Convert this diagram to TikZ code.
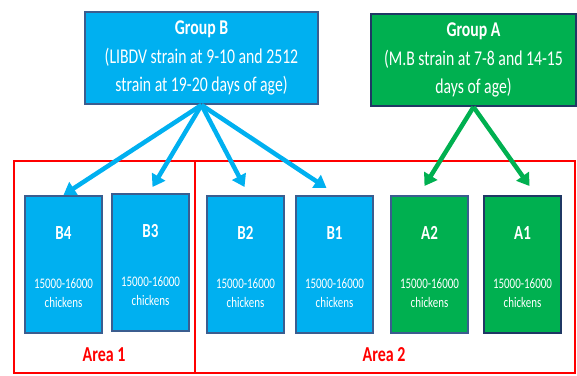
\documentclass[tikz,border=0pt]{standalone}
\usepackage{fontspec}
\setmainfont{Carlito}[FakeStretch=0.75]
\usetikzlibrary{arrows.meta,calc}
\definecolor{boxblue}{HTML}{00B0F0}
\definecolor{boxgreen}{HTML}{00B050}
\definecolor{edgeblue}{HTML}{3B5D8F}
\definecolor{edgenavy}{HTML}{1F3864}
\definecolor{areared}{HTML}{FF0000}
\tikzset{
  groupbox/.style={draw=edgeblue, line width=2pt, inner sep=0pt, anchor=north west,
    text=white, align=center, font=\fontsize{21}{28.5}\selectfont},
  penbox/.style={draw=edgeblue, line width=2pt, inner sep=0pt, anchor=north west,
    minimum width=77pt, minimum height=137pt},
  bluepen/.style={penbox, fill=boxblue},
  greenpen/.style={penbox, fill=boxgreen},
  penname/.style={anchor=base, text=white, font=\fontsize{20}{22}\selectfont\bfseries, inner sep=0pt},
  pencount/.style={anchor=base, text=white, font=\fontsize{14.6}{17}\selectfont, inner sep=0pt},
  areabox/.style={draw=areared, line width=1.5pt},
  arealabel/.style={anchor=base, text=areared, font=\fontsize{21.3}{24}\selectfont\bfseries, inner sep=0pt},
  feed/.style={line width=4.5pt, -{Triangle[length=12pt,width=15pt]}},
}
\begin{document}
\begin{tikzpicture}[x=1pt,y=-1pt]
\useasboundingbox (0,0) rectangle (577,375);

% the two farm areas
\draw[areabox] (14,161) rectangle (195,373);
\draw[areabox] (195,161) rectangle (575,373);
\node[arealabel] (ar1) at (104,361) {Area 1};
\node[arealabel] (ar2) at (384,361) {Area 2};

% vaccination groups
\node[groupbox, fill=boxblue, minimum width=233pt, minimum height=92pt] (gB) at (84,11)
  {\textbf{Group B}\\(LIBDV strain at 9-10 and 2512\\strain at 19-20 days of age)};
\node[groupbox, fill=boxgreen, draw=edgenavy, minimum width=205pt, minimum height=92pt] (gA) at (370,13)
  {\textbf{Group A}\\(M.B strain at 7-8 and 14-15\\days of age)};

% pens
\node[bluepen] (b4) at (24,195) {};
\node[bluepen] (b3) at (111,193) {};
\node[bluepen] (b2) at (206,195) {};
\node[bluepen] (b1) at (295,195) {};
\node[greenpen] (a2) at (390,195) {};
\node[greenpen, draw=edgenavy] (a1) at (483,195) {};

\foreach \p/\t in {b4/B4,b3/B3,b2/B2,b1/B1,a2/A2,a1/A1}{
  \node[penname] (\p-name) at ($(\p.north)+(0,44)$) {\t};
  \node[pencount] (\p-count) at ($(\p.north)+(0,93)$) {15000-16000};
  \node[pencount] (\p-unit) at ($(\p.north)+(0,112)$) {chickens};
}

% vaccine assignment arrows
\draw[feed, boxblue] (gB.south) -- (b4.north);
\draw[feed, boxblue] (gB.south) -- ($(b3.north)+(2,-6)$);
\draw[feed, boxblue] (gB.south) -- ($(b2.north)+(-1,-8)$);
\draw[feed, boxblue] (gB.south) -- ($(b1.north)+(-8,-7)$);
\draw[feed, boxgreen] (gA.south) -- ($(a2.north)+(-5,-9)$);
\draw[feed, boxgreen] (gA.south) -- ($(a1.north)+(7,-9)$);
\end{tikzpicture}
\end{document}
